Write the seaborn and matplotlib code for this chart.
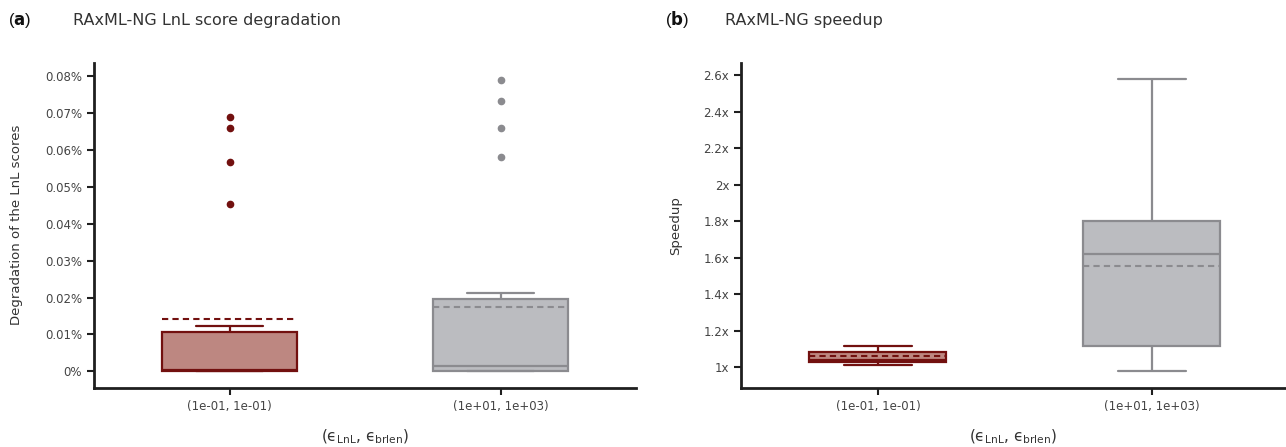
import matplotlib
matplotlib.use("Agg")
import matplotlib.pyplot as plt
from matplotlib.ticker import FixedLocator, FuncFormatter
import pandas as pd
import seaborn as sns

# Categories (epsilon_LnL, epsilon_brlen)
CATEGORIES = ["(1e-01, 1e-01)", "(1e+01, 1e+03)"]

# LnL score degradation in percent, per setting (estimated from the figure)
LNL_TIGHT = [0.0, 0.0, 0.0, 0.0, 0.0, 0.00005, 0.0001, 0.00015, 0.0002, 0.00025,
             0.00035, 0.007, 0.008, 0.0087, 0.01003, 0.0123,
             0.0454, 0.0567, 0.06585, 0.0689]
LNL_LOOSE = [0.0, 0.0, 0.0, 0.0, 0.0, 0.0001, 0.0003, 0.0006, 0.0009, 0.0013,
             0.0017, 0.0055, 0.0085, 0.0107, 0.0189, 0.0213,
             0.0581, 0.0659, 0.0732, 0.0790]

# Speedup relative to default settings
SPEED_TIGHT = [1.013, 1.016, 1.020, 1.024, 1.027, 1.030, 1.039, 1.040, 1.040, 1.040,
               1.044, 1.075, 1.078, 1.080, 1.080, 1.096, 1.115, 1.116, 1.117, 1.117]
SPEED_LOOSE = [0.978, 1.00, 1.04, 1.08, 1.11, 1.12, 1.20, 1.35, 1.52, 1.60,
               1.645, 1.66, 1.70, 1.75, 1.79, 1.83, 1.90, 2.05, 2.25, 2.576]

LNL_TICKS = [0, 0.01, 0.02, 0.03, 0.04, 0.05, 0.06, 0.07, 0.08]
SPEED_TICKS = [1.0, 1.2, 1.4, 1.6, 1.8, 2.0, 2.2, 2.4, 2.6]

FILLS = ["#bd8781", "#bbbcc0"]
EDGES = ["#72100f", "#8b8b8f"]

sns.set_style("ticks")
plt.rcParams["font.family"] = ["DejaVu Sans"]
plt.rcParams["mathtext.default"] = "regular"

W, H = 1286, 447
fig = plt.figure(figsize=(W / 100, H / 100), dpi=100)


def px_axes(x0, y0, x1, y1):
    return fig.add_axes([x0 / W, 1 - y1 / H, (x1 - x0) / W, (y1 - y0) / H])


def draw_panel(ax, tight, loose):
    df = pd.DataFrame({
        "setting": [CATEGORIES[0]] * len(tight) + [CATEGORIES[1]] * len(loose),
        "value": list(tight) + list(loose),
    })
    for cat, fill, edge in zip(CATEGORIES, FILLS, EDGES):
        sns.boxplot(
            data=df[df["setting"] == cat], x="setting", y="value",
            order=CATEGORIES, ax=ax, color=fill, linecolor=edge,
            saturation=1, width=0.5, linewidth=1.6, fliersize=4.5,
            showmeans=True, meanline=True,
            meanprops={"color": edge, "linestyle": (0, (3, 2)), "linewidth": 1.5},
            flierprops={"marker": "o", "markerfacecolor": edge,
                        "markeredgecolor": edge, "markersize": 4.5},
        )
    sns.despine(ax=ax)
    for side in ["left", "bottom"]:
        ax.spines[side].set_linewidth(2)
        ax.spines[side].set_color("#1f1f1f")
    ax.tick_params(axis="both", direction="out", length=5, width=1.5,
                   color="#1f1f1f", labelsize=8.5, labelcolor="#444444")
    ax.set_xlabel("")
    ax.set_ylabel("")


ax1 = px_axes(94, 63, 636, 388)
draw_panel(ax1, LNL_TIGHT, LNL_LOOSE)
ax1.set_xlim(-0.5, 1.5)
ax1.set_ylim(-0.0045, 0.0835)
ax1.yaxis.set_major_locator(FixedLocator(LNL_TICKS))
ax1.yaxis.set_major_formatter(FuncFormatter(lambda v, p: f"{v:g}%"))

ax2 = px_axes(741, 63, 1286, 388)
draw_panel(ax2, SPEED_TIGHT, SPEED_LOOSE)
ax2.set_xlim(-0.5, 1.49)
ax2.set_ylim(0.887, 2.666)
ax2.yaxis.set_major_locator(FixedLocator(SPEED_TICKS))
ax2.yaxis.set_major_formatter(FuncFormatter(lambda v, p: f"{v:g}x"))

xlabel = "(ϵ$_{LnL}$, ϵ$_{brlen}$)"
for cx in [365, 1013]:
    fig.text(cx / W, 1 - 437 / H, xlabel, ha="center", va="center",
             fontsize=11, color="#333333")

fig.text(17 / W, 1 - 225 / H, "Degradation of the LnL scores", rotation=90,
         ha="center", va="center", fontsize=9.5, color="#333333")
fig.text(676 / W, 1 - 226 / H, "Speedup", rotation=90,
         ha="center", va="center", fontsize=9.5, color="#333333")

for x_lab, x_tit, lab, tit in [(8, 73, "a", "RAxML-NG LnL score degradation"),
                               (665, 725, "b", "RAxML-NG speedup")]:
    fig.text(x_lab / W, 1 - 20 / H, "(" + r"$\mathbf{" + lab + "}$" + ")",
             ha="left", va="center", fontsize=12, color="#111111",
             family="Liberation Sans")
    fig.text(x_tit / W, 1 - 20 / H, tit, ha="left", va="center",
             fontsize=11.5, color="#333333")

fig.savefig("out.png", dpi=100)
